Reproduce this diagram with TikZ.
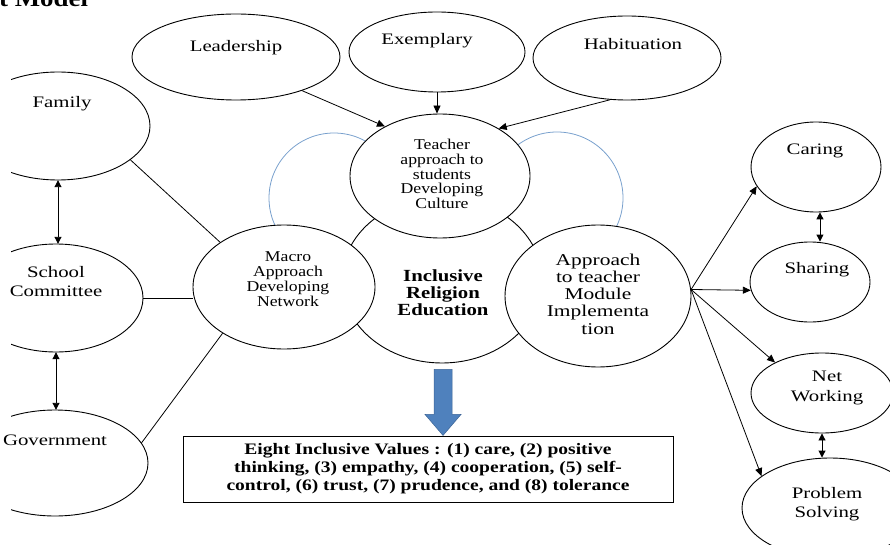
\documentclass[tikz,border=0pt]{standalone}
\usepackage{fontspec}
\setmainfont{Liberation Serif}
\newfontfamily\widefont{Liberation Serif}[FakeStretch=1.3]
\newfontfamily\narrowfont{Liberation Serif}[FakeStretch=1.18]
\newfontfamily\boldwide{Liberation Serif}[FakeStretch=1.22]
\newfontfamily\titlefont{Liberation Serif}[FakeStretch=1.12]
\usetikzlibrary{shapes.geometric,arrows.meta,calc}
\definecolor{arcblue}{RGB}{120,160,205}
\definecolor{arrowblue}{RGB}{79,129,189}
\definecolor{arrowedge}{RGB}{60,100,150}
\begin{document}
\begin{tikzpicture}[x=1pt,y=-1pt,
  oval/.style={ellipse, draw=black, line width=0.9pt, fill=white, inner sep=0pt},
  ghost/.style={ellipse, inner sep=0pt},
  bluering/.style={circle, draw=arcblue, line width=0.8pt, inner sep=0pt},
  lbl/.style={inner sep=0pt, font=\widefont\fontsize{16}{19}\selectfont, align=center},
  nlbl/.style={inner sep=0pt, font=\narrowfont\fontsize{15}{14.8}\selectfont, align=center},
  blbl/.style={inner sep=0pt, font=\boldwide\bfseries\fontsize{17}{17}\selectfont, align=center},
  link/.style={line width=0.8pt},
  arr/.style={line width=0.8pt, -{Triangle[length=8pt,width=7pt]}},
  dbl/.style={line width=0.9pt, {Triangle[length=7pt,width=7pt]}-{Triangle[length=7pt,width=7pt]}}
]
\useasboundingbox (0,0) rectangle (890,545);

% title (cut at top, as in the reference)
\node[anchor=base west, inner sep=0pt, font=\titlefont\bfseries\fontsize{24}{24}\selectfont] (title) at (-1,7) {t Model};

% light blue rings behind
\node[bluering, minimum size=130pt] (ringL) at (334,198) {};
\node[bluering, minimum size=132pt] (ringR) at (557,198) {};

% core
\node[oval, minimum width=200pt, minimum height=166pt] (core) at (442,280) {};
\node[oval, minimum width=180pt, minimum height=124pt] (tea) at (440,176) {};
\node[oval, minimum width=182pt, minimum height=124pt] (mac) at (284,287) {};
\node[oval, minimum width=186pt, minimum height=142pt] (app) at (598,296) {};

% top ellipses
\node[oval, minimum width=208pt, minimum height=86pt] (lead) at (236,57) {};
\node[oval, minimum width=176pt, minimum height=80pt] (exe) at (437,52) {};
\node[oval, minimum width=188pt, minimum height=84pt] (hab) at (627,58) {};

% right ellipses
\node[oval, minimum width=130pt, minimum height=90pt] (car) at (816,167) {};
\node[oval, minimum width=120pt, minimum height=80pt] (sh) at (810,282) {};
\node[oval, minimum width=142pt, minimum height=80pt] (nw) at (822,393) {};
\node[oval, minimum width=176pt, minimum height=100pt] (ps) at (830,508) {};

% left ellipses (cut at the left edge)
\node[ghost, minimum width=184pt, minimum height=108pt] (fam) at (58,126) {};
\node[ghost, minimum width=174pt, minimum height=108pt] (sch) at (56,298) {};
\node[ghost, minimum width=186pt, minimum height=106pt] (gov) at (55,463) {};
\begin{scope}
\clip (11,0) rectangle (300,545);
\draw[line width=0.9pt] (fam.center) ellipse [x radius=92, y radius=54];
\draw[line width=0.9pt] (sch.center) ellipse [x radius=87, y radius=54];
\draw[line width=0.9pt] (gov.center) ellipse [x radius=93, y radius=53];
\end{scope}

% texts
\node[lbl, anchor=base] (tLead) at (236,52) {Leadership};
\node[lbl, anchor=base] (tExe) at (427,45) {Exemplary};
\node[lbl, anchor=base] (tHab) at (633,50) {Habituation};
\node[lbl, anchor=base] (tFam) at (62,108) {Family};
\node[lbl] (tSch) at (56,282) {School\\Committee};
\node[lbl, anchor=base] (tGov) at (55,445) {Government};
\node[nlbl] (tTea) at (442,174) {Teacher\\approach to\\students\\Developing\\Culture};
\node[nlbl] (tMac) at (288,279) {Macro\\Approach\\Developing\\Network};
\node[blbl] (tCore) at (443,293) {Inclusive\\Religion\\Education};
\node[inner sep=0pt, font=\widefont\fontsize{16.5}{17.2}\selectfont, align=center] (tApp) at (598,294) {Approach\\to teacher\\Module\\Implementa\\tion};
\node[lbl, anchor=base] (tCar) at (815,155) {Caring};
\node[lbl, anchor=base] (tSh) at (817,273) {Sharing};
\node[inner sep=0pt, font=\widefont\fontsize{16}{20}\selectfont, align=center] (tNw) at (827,388) {Net\\Working};
\node[inner sep=0pt, font=\widefont\fontsize{16}{19}\selectfont, align=center] (tPs) at (827,504) {Problem\\Solving};

% values box
\node[draw, line width=0.9pt, minimum width=490pt, minimum height=66pt, inner sep=0pt,
      font=\boldwide\bfseries\fontsize{16}{18}\selectfont, align=center] (box) at (428,469)
  {Eight Inclusive Values : (1) care, (2) positive\\thinking, (3) empathy, (4) cooperation, (5) self-\\control, (6) trust, (7) prudence, and (8) tolerance};

% blue block arrow
\filldraw[fill=arrowblue, draw=arrowedge, line width=0.5pt]
  ($(core.south)+(-8,6)$) -- ($(core.south)+(10,6)$) -- ($(core.south)+(10,51)$)
  -- ($(core.south)+(19,51)$) -- ($(core.south)+(1,72)$) -- ($(core.south)+(-17,51)$)
  -- ($(core.south)+(-8,51)$) -- cycle;

% connectors
\draw[arr] (lead.-27) -- (tea.138);
\draw[arr] (exe.south) -- (exe.south |- tea.north);
\draw[arr] (hab.248) -- (tea.39);
\draw[link] (fam.-25) -- (mac.145);
\draw[link] (sch.east) -- (sch.east -| mac.west);
\draw[link] (gov.13) -- (mac.217);
\draw[dbl] (fam.south) -- (fam.south |- sch.north);
\draw[dbl] (sch.south) -- (sch.south |- gov.north);
\draw[arr] (app.4) -- (car.198);
\draw[arr] (app.4) -- (sh.188);
\draw[arr] (app.4) -- (nw.147);
\draw[arr] (app.4) -- (ps.155);
\draw[dbl] (car.-85) -- (car.-85 |- sh.north);
\draw[dbl] (nw.south) -- (nw.south |- ps.north);
\end{tikzpicture}
\end{document}
